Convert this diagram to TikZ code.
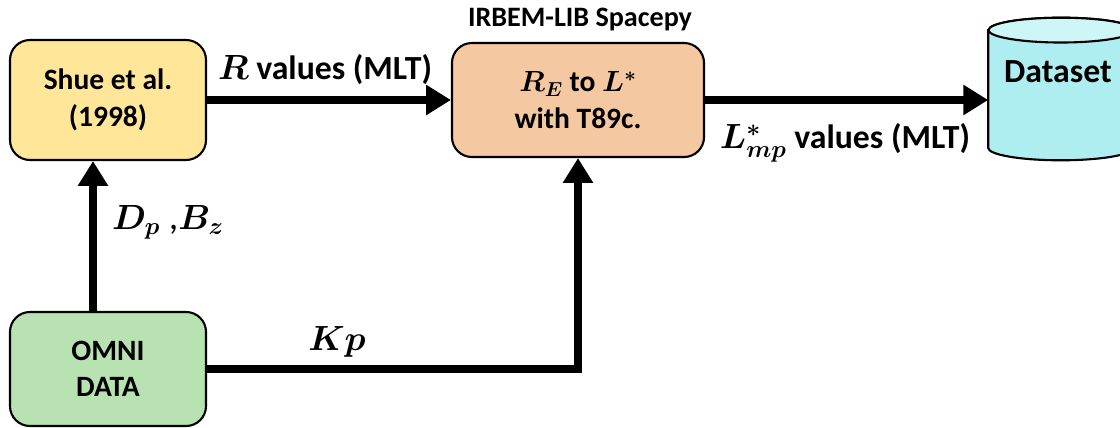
\documentclass[tikz,border=0pt]{standalone}
\usepackage{fontspec}
\setmainfont{Carlito}
\usepackage{bm}
\usetikzlibrary{arrows.meta}

\definecolor{shuefill}{HTML}{FFE699}
\definecolor{irbemfill}{HTML}{F4C8A0}
\definecolor{omnifill}{HTML}{B8E2B1}
\definecolor{databody}{HTML}{AEEEF0}
\definecolor{datatop}{HTML}{CFF6F6}

\begin{document}
\begin{tikzpicture}[x=0.025cm, y=-0.025cm,
    block/.style ={rectangle, rounded corners=0.5cm, draw, line width=1.5pt, align=center,
                   font=\fontsize{21}{26}\selectfont\bfseries},
    flow/.style ={line width=5.5pt, -{Triangle[length=0.62cm, width=0.72cm]}},
    lbl/.style ={font=\fontsize{24}{28}\selectfont\bfseries},
    mathlbl/.style ={font=\fontsize{27}{30}\selectfont}]
   \useasboundingbox (0,0) rectangle (1120,428);
   % boxes
   \node[block, fill=shuefill, minimum width=4.9cm, minimum height=3cm] (shue) at (108,100) {Shue et al.\\(1998)};
   \node[block, fill=irbemfill, minimum width=6.3cm, minimum height=2.85cm] (irbem) at (578,100) {$\bm{R_E}$ to $\bm{L^{*}}$\\with T89c.};
   \node[block, fill=omnifill, minimum width=4.9cm, minimum height=2.85cm] (omni) at (108,369) {OMNI\\DATA};
   % dataset drum
   \node[minimum width=3.625cm, minimum height=3.55cm, inner sep=0pt] (data) at (1061,89) {};
   \draw[line width=1.5pt, fill=databody] ([yshift=-0.31cm]data.north west) -- ([yshift=0.31cm]data.south west)
      arc[start angle=180, end angle=360, x radius=1.8125cm, y radius=0.31cm]
      -- ([yshift=-0.31cm]data.north east)
      arc[start angle=0, end angle=180, x radius=1.8125cm, y radius=0.31cm] -- cycle;
   \draw[line width=1.5pt, fill=datatop] ([yshift=-0.31cm]data.north) ellipse [x radius=1.8125cm, y radius=0.31cm];
   \node[lbl] (datatext) at (1058,72) {Dataset};
   % labels
   \node[lbl] (rval) at (325,70) {$\bm{R}$ values (MLT)};
   \node[font=\fontsize{20}{24}\selectfont\bfseries] (irbemlib) at (580,19) {IRBEM-LIB Spacepy};
   \node[lbl] (lval) at (845,143) {$\bm{L^{*}_{mp}}$ values (MLT)};
   \node[mathlbl] (dpbz) at (168,222) {$\bm{D_p}$ ,$\bm{B_z}$};
   \node[mathlbl] (kp) at (337,342) {$\bm{Kp}$};
   % arrows
   \draw[flow] (shue.east) to (irbem.west);
   \draw[flow] (irbem.east) to (irbem.east -| data.west);
   \draw[flow] ([xshift=-0.375cm]omni.north) to ([xshift=-0.375cm]shue.south);
   \draw[flow] (omni.east) -| (irbem.south);
 \end{tikzpicture}
\end{document}
